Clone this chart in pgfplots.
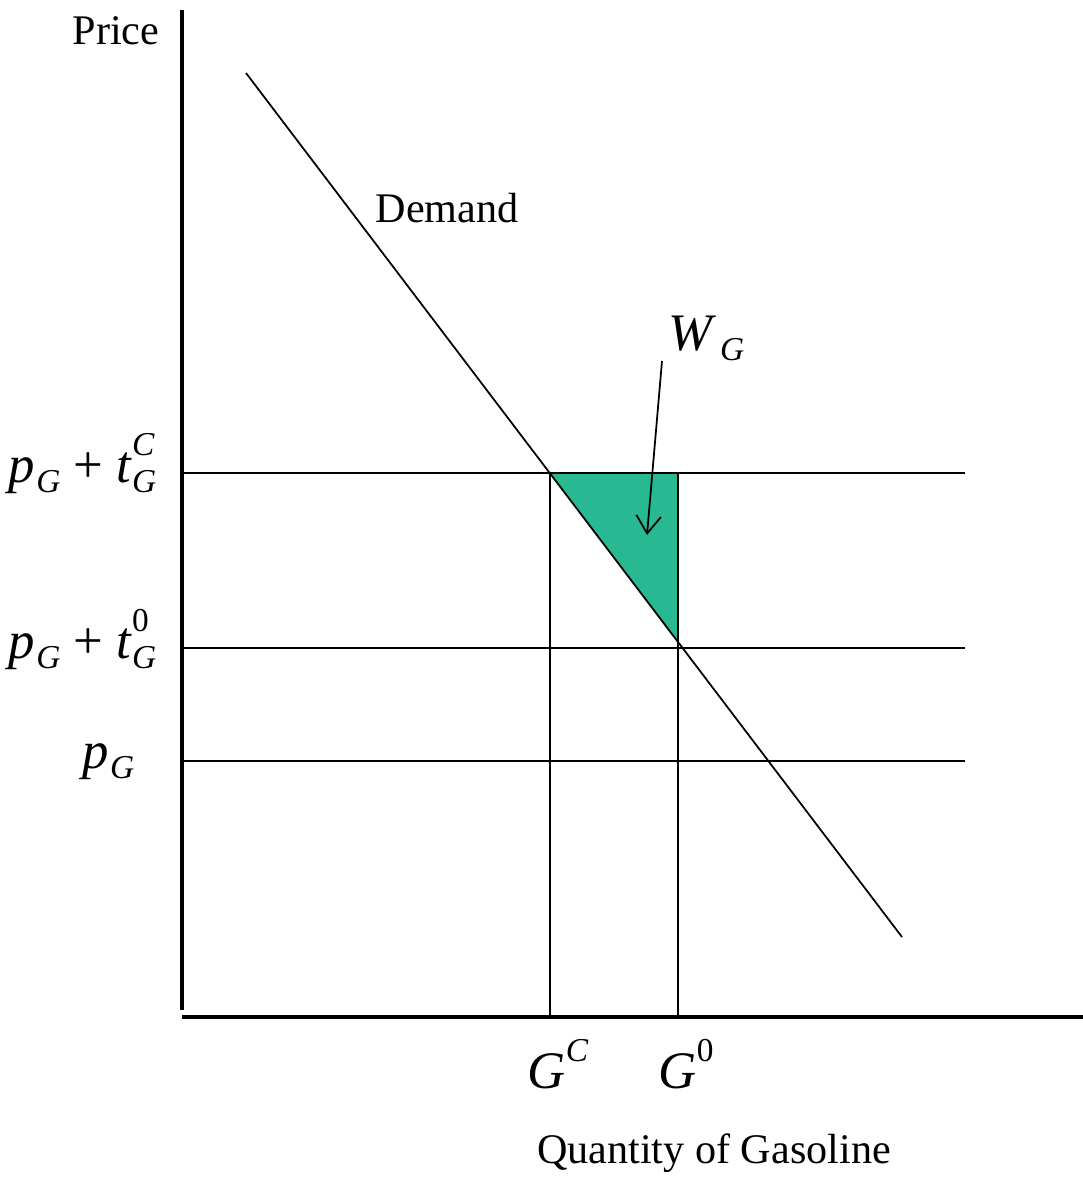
\documentclass[border=0pt]{standalone}
\usepackage{pgfplots}
\pgfplotsset{compat=1.18}
\usetikzlibrary{arrows.meta}
\usepackage{fontspec}
\setmainfont{Liberation Serif}
\definecolor{wgreen}{RGB}{41,185,146}
\newcommand{\vi}[1]{\textit{#1}}
\newcommand{\sml}{\fontsize{9.5}{10}\selectfont}
\newcommand{\sbs}[1]{\raisebox{-0.2em}{\sml #1}}
\newcommand{\sps}[1]{\raisebox{0.5em}{\sml #1}}
\newcommand{\pG}{\vi{p}\kern0.5pt\sbs{\vi{G}}}
\begin{document}
\begin{tikzpicture}
\begin{axis}[
  width=10.83cm, height=11.78cm, scale only axis,
  xmin=0, xmax=1083, ymin=0, ymax=1178, y dir=reverse,
  hide axis, clip=false,
]
\coordinate (ll) at (axis cs:0,1178);
\coordinate (ur) at (axis cs:1083,0);
% shaded loss triangle
\addplot[fill=wgreen, draw=none] coordinates {(550,473) (678,473) (678,643)} -- cycle;
% axes
\addplot[line width=0.9pt] coordinates {(182,10) (182,1010)};
\addplot[line width=0.9pt] coordinates {(182,1017) (1083,1017)};
% price levels
\addplot[line width=0.5pt] coordinates {(182,473) (965,473)};
\addplot[line width=0.5pt] coordinates {(182,648) (965,648)};
\addplot[line width=0.5pt] coordinates {(182,761) (965,761)};
% quantities
\addplot[line width=0.5pt] coordinates {(550,473) (550,1017)};
\addplot[line width=0.5pt] coordinates {(678,473) (678,1017)};
% demand
\addplot[line width=0.5pt] coordinates {(246,73) (902,937)};
% arrow to W_G
\addplot[line width=0.5pt, -{Straight Barb[length=5pt,width=7pt]}] coordinates {(662,361) (647,535)};
% labels
\node[inner sep=0pt, anchor=base, font=\fontsize{12}{14}\selectfont] at (axis cs:116,45) {Price};
\node[inner sep=0pt, anchor=base, font=\fontsize{12}{14}\selectfont] at (axis cs:447,222) {Demand};
\node[inner sep=0pt, anchor=base, font=\fontsize{12}{14}\selectfont] at (axis cs:714,1163) {Quantity of Gasoline};
\node[inner sep=0pt, anchor=base west, font=\fontsize{15}{17}\selectfont] at (axis cs:668,350) {\vi{W}\kern1pt\sbs{\vi{G}}};
\node[inner sep=0pt, anchor=base east, font=\fontsize{15}{17}\selectfont] at (axis cs:157,482) {\pG\ + \vi{t}\rlap{\sps{\vi{C}}}\sbs{\vi{G}}};
\node[inner sep=0pt, anchor=base east, font=\fontsize{15}{17}\selectfont] at (axis cs:157,658) {\pG\ + \vi{t}\rlap{\sps{0}}\sbs{\vi{G}}};
\node[inner sep=0pt, anchor=base east, font=\fontsize{15}{17}\selectfont] at (axis cs:135,768) {\pG};
\node[inner sep=0pt, anchor=base west, font=\fontsize{15}{17}\selectfont] at (axis cs:527,1088) {\vi{G}\sps{\vi{C}}};
\node[inner sep=0pt, anchor=base west, font=\fontsize{15}{17}\selectfont] at (axis cs:658,1088) {\vi{G}\sps{0}};
\end{axis}
\pgfresetboundingbox
\useasboundingbox (ll) rectangle (ur);
\end{tikzpicture}
\end{document}
